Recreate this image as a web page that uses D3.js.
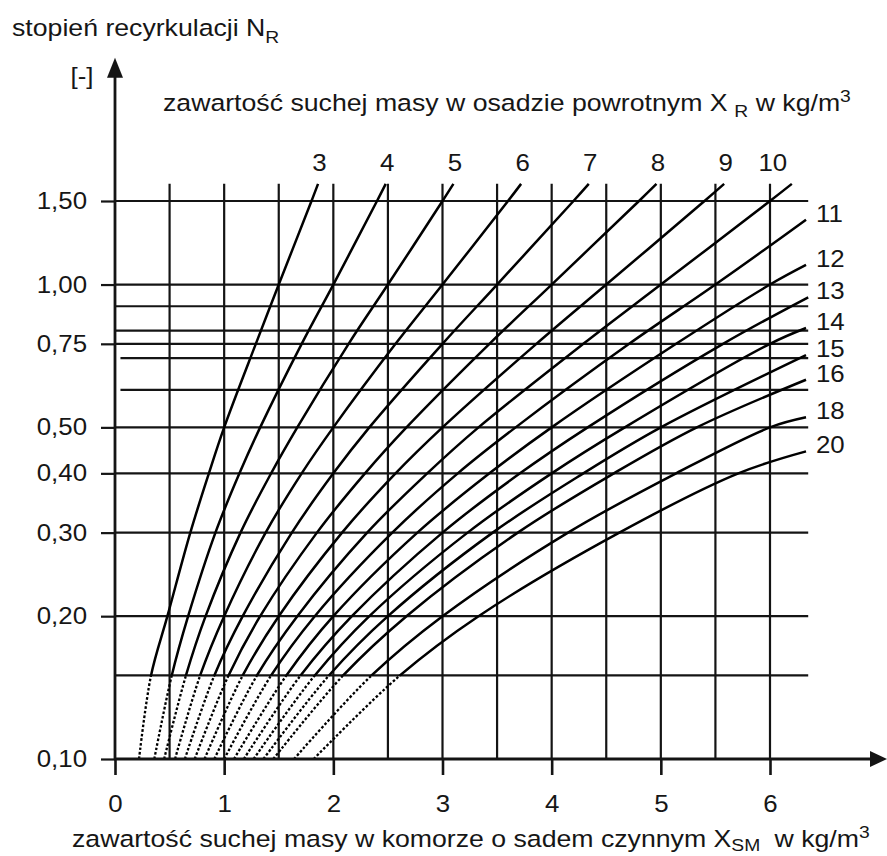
<!DOCTYPE html>
<html><head><meta charset="utf-8">
<script src="https://cdn.jsdelivr.net/npm/d3@7"></script>
<style>
html,body{margin:0;padding:0;background:#fff;}
svg{display:block;}
text{font-family:"Liberation Sans",Arial,Helvetica,sans-serif;fill:#161616;}
</style></head><body>
<svg id="chart" width="887" height="856"></svg>
<script>
// ---------- data ----------
// recirculation levels N_R at which each curve's X_SM was read
const nrLevels = [0.10, 0.15, 0.20, 0.30, 0.40, 0.50, 0.75, 1.00, 1.50];
// curve parameter: X_R (kg/m3)
const xrValues = [3, 4, 5, 6, 7, 8, 9, 10, 11, 12, 13, 14, 15, 16, 18, 20];
// X_SM (kg/m3) where each curve crosses the N_R levels above
const xsmAtLevels = [
  [0.22, 0.33, 0.48, 0.69, 0.86, 1.00, 1.29, 1.50, 1.80],
  [0.36, 0.52, 0.67, 0.92, 1.14, 1.33, 1.71, 2.00, 2.40],
  [0.45, 0.65, 0.83, 1.15, 1.43, 1.67, 2.14, 2.50, 3.00],
  [0.55, 0.78, 1.00, 1.38, 1.71, 2.00, 2.57, 3.00, 3.60],
  [0.64, 0.91, 1.17, 1.62, 2.00, 2.33, 3.00, 3.50, 4.20],
  [0.73, 1.04, 1.33, 1.85, 2.29, 2.67, 3.43, 4.00, 4.80],
  [0.82, 1.17, 1.50, 2.08, 2.57, 3.00, 3.86, 4.50, 5.40],
  [0.91, 1.30, 1.67, 2.31, 2.86, 3.33, 4.29, 5.00, 6.00],
  [1.00, 1.43, 1.83, 2.54, 3.14, 3.67, 4.71, 5.50],
  [1.09, 1.57, 2.00, 2.77, 3.43, 4.00, 5.14, 6.00],
  [1.18, 1.70, 2.17, 3.00, 3.71, 4.33, 5.57],
  [1.27, 1.83, 2.33, 3.23, 4.00, 4.67, 6.00],
  [1.36, 1.96, 2.50, 3.46, 4.29, 5.00],
  [1.45, 2.09, 2.67, 3.69, 4.57, 5.33],
  [1.64, 2.35, 3.00, 4.15, 5.14, 6.00],
  [1.82, 2.61, 3.33, 4.62, 5.71]
];
// last drawn point of each curve [X_SM, N_R]
const curveEnds = [
  [1.86, 1.63], [2.48, 1.63], [3.10, 1.63], [3.72, 1.63], [4.34, 1.63],
  [4.96, 1.63], [5.58, 1.63], [6.20, 1.63], [6.33, 1.37], [6.33, 1.10],
  [6.35, 0.94], [6.33, 0.81], [6.33, 0.71], [6.33, 0.63], [6.33, 0.525],
  [6.33, 0.445]
];
const dashedBelow = 0.15;          // curves are dashed below this N_R
const xTicks = [0, 1, 2, 3, 4, 5, 6];
const xGrid = [0.5, 1, 1.5, 2, 2.5, 3, 3.5, 4, 4.5, 5, 5.5, 6];
const yTicks = [0.10, 0.20, 0.30, 0.40, 0.50, 0.75, 1.00, 1.50];
const yGrid = [0.15, 0.20, 0.30, 0.40, 0.50, 0.60, 0.70, 0.75, 0.80, 0.90, 1.00, 1.50];
const yGridShort = [0.60, 0.70];
const gridXMax = 6.35;
const gridNTop = 1.63;

const titleY = "stopień recyrkulacji N";
const titleYSub = "R";
const unitY = "[-]";
const curveTitle = ["zawartość suchej masy w osadzie powrotnym X", "R", " w kg/m", "3"];
const titleX = ["zawartość suchej masy w komorze o sadem czynnym X", "SM", " w kg/m", "3"];

// ---------- drawing ----------
const SX = 1.135;      // horizontal stretch of title lettering
const SXT = 1.1;       // horizontal stretch of tick / curve labels
const FS = 23.5;       // main font size
const INK = "#141414";

const svg = d3.select("#chart");
const x = d3.scaleLinear().domain([0, 6]).range([115, 770]);
const y = d3.scaleLog().domain([0.1, 1.5]).range([759, 201]);

const plFmt = d3.formatLocale({decimal: ",", thousands: " ", grouping: [3], currency: ["", ""]}).format(".2f");

function stext(g, px, py, anchor, size, sx) {
  return g.append("text")
    .attr("transform", `translate(${px},${py}) scale(${sx || SX},1)`)
    .attr("text-anchor", anchor)
    .style("font-size", size + "px");
}

// grid
const grid = svg.append("g").attr("stroke", INK).attr("stroke-width", 2.2).attr("fill", "none");
grid.selectAll("line.h").data(yGrid).join("line")
  .attr("x1", d => yGridShort.includes(d) ? x(0.05) : x(0))
  .attr("x2", x(gridXMax))
  .attr("y1", d => y(d)).attr("y2", d => y(d));
grid.selectAll("line.v").data(xGrid).join("line")
  .attr("x1", d => x(d)).attr("x2", d => x(d))
  .attr("y1", y(0.1)).attr("y2", y(gridNTop));

// clip regions for solid / dashed parts
const defs = svg.append("defs");
defs.append("clipPath").attr("id", "solidClip").append("rect")
  .attr("x", 0).attr("y", 0).attr("width", 887).attr("height", y(dashedBelow));
defs.append("clipPath").attr("id", "dashClip").append("rect")
  .attr("x", 0).attr("y", y(dashedBelow)).attr("width", 887).attr("height", 856 - y(dashedBelow));

const curves = xrValues.map((xr, i) => {
  const pts = xsmAtLevels[i].map((v, j) => [v, nrLevels[j]]);
  pts.push(curveEnds[i]);
  return {xr, pts, end: curveEnds[i]};
});

const line = d3.line().x(d => x(d[0])).y(d => y(d[1])).curve(d3.curveCatmullRom.alpha(0.5));

const cg = svg.append("g").attr("fill", "none").attr("stroke", "#000");
cg.selectAll("path.solid").data(curves).join("path")
  .attr("class", "solid")
  .attr("clip-path", "url(#solidClip)")
  .attr("stroke-width", 2.5)
  .attr("d", d => line(d.pts));
cg.selectAll("path.dash").data(curves).join("path")
  .attr("class", "dash")
  .attr("clip-path", "url(#dashClip)")
  .attr("stroke-width", 2.3)
  .attr("stroke-dasharray", "2.6,2")
  .attr("d", d => line(d.pts));

// curve labels
const lg = svg.append("g");
curves.forEach(c => {
  const [ex, en] = c.end;
  if (en >= 1.6) {
    const dx = c.xr === 10 ? -19 : 1.5;
    stext(lg, x(ex) + dx, 171, "middle", FS, SXT).text(c.xr);
  } else {
    stext(lg, 816, y(en) + 2, "start", FS, SXT).text(c.xr);
  }
});

// x axis
const gx = svg.append("g").attr("transform", `translate(0,${y(0.1)})`)
  .call(d3.axisBottom(x).tickValues(xTicks).tickSize(16).tickPadding(20).tickFormat(d3.format("d")));
gx.select(".domain").remove();
gx.selectAll(".tick line").attr("stroke", INK).attr("stroke-width", 2.6);
gx.selectAll(".tick text").attr("transform", `scale(${SXT},1)`)
  .style("font-size", FS + "px").attr("fill", "#161616");

// y axis
const gy = svg.append("g").attr("transform", `translate(${x(0)},0)`)
  .call(d3.axisLeft(y).tickValues(yTicks).tickSize(14).tickPadding(14).tickFormat(plFmt));
gy.select(".domain").remove();
gy.selectAll(".tick line").attr("stroke", INK).attr("stroke-width", 2.2);
gy.selectAll(".tick text").attr("transform", `scale(${SXT},1)`).attr("x", -28 / SXT)
  .style("font-size", FS + "px").attr("fill", "#161616");
svg.selectAll(".tick text").style("font-family", "'Liberation Sans', Arial, sans-serif");

// axis lines with arrows
const ax = svg.append("g").attr("stroke", INK).attr("fill", INK);
ax.append("line").attr("x1", x(0)).attr("x2", x(0)).attr("y1", y(0.1) + 1).attr("y2", y(gridNTop) - 112)
  .attr("stroke-width", 2.8);
ax.append("path").attr("stroke", "none")
  .attr("d", `M${x(0)},${y(gridNTop) - 126} L${x(0) - 8},${y(gridNTop) - 106} L${x(0) + 8},${y(gridNTop) - 106} Z`);
ax.append("line").attr("x1", x(0) - 1).attr("x2", x(6) + 106).attr("y1", y(0.1)).attr("y2", y(0.1))
  .attr("stroke-width", 2.8);
ax.append("path").attr("stroke", "none")
  .attr("d", `M${x(6) + 117},${y(0.1)} L${x(6) + 100},${y(0.1) - 8} L${x(6) + 100},${y(0.1) + 8} Z`);

// titles
const tg = svg.append("g");
const t1 = stext(tg, 12, 36, "start", FS);
t1.append("tspan").text(titleY);
t1.append("tspan").attr("dy", 7).style("font-size", "17px").text(titleYSub);

stext(tg, 82, 84, "middle", FS, SXT).text(unitY);

const t2 = stext(tg, 163, 111, "start", FS);
t2.append("tspan").text(curveTitle[0]);
t2.append("tspan").attr("dx", 6).attr("dy", 6).style("font-size", "17px").text(curveTitle[1]);
t2.append("tspan").attr("dy", -6).text(curveTitle[2]);
t2.append("tspan").attr("dy", -9).style("font-size", "17px").text(curveTitle[3]);

const t3 = stext(tg, 72, 847, "start", FS);
t3.append("tspan").text(titleX[0]);
t3.append("tspan").attr("dy", 4).style("font-size", "17px").text(titleX[1]);
t3.append("tspan").attr("dx", 6).attr("dy", -4).text(titleX[2]);
t3.append("tspan").attr("dy", -9).style("font-size", "17px").text(titleX[3]);
</script>
</body></html>
